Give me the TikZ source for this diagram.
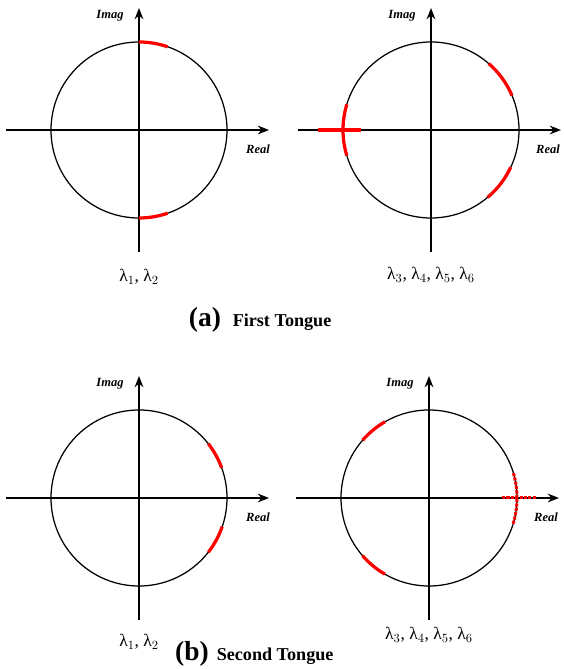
\documentclass[tikz,border=0pt]{standalone}
\usepackage{fontspec}
\setmainfont{Liberation Serif}
\usetikzlibrary{arrows.meta,calc,positioning}
\tikzset{
  axis/.style={
    line width = 1.1pt,
    -{Stealth[length=9pt,width=7pt]}
  },
  unitc/.style={
    line width = 1pt
  },
  eig/.style={
    line width = 2.6pt,
    red
  },
  eigdot/.style={
    line width = 2.4pt,
    red,
    dash pattern = on 2.5pt off 1pt
  },
  axlabel/.style={
    font = \bfseries\itshape\fontsize{10}{12}\selectfont,
    inner sep = 1pt
  },
  lam/.style={
    font = \fontsize{14}{16}\selectfont,
    inner sep = 1pt
  },
  tag/.style={
    font = \bfseries\fontsize{22}{24}\selectfont,
    inner sep = 1pt
  },
  subcap/.style={
    font = \bfseries\fontsize{14.5}{17}\selectfont,
    inner sep = 1pt
  }
}

\begin{document}
\begin{tikzpicture}[x=0.8pt,y=0.8pt]
    \def\R{88}
    \def\dw{133}
    \def\de{130}
    \def\dv{122}
    \useasboundingbox (0,0) rectangle (563,669);
    \coordinate (c1) at (139,539);
    \coordinate (c2) at (431,539);
    \coordinate (c3) at (139,171);
    \coordinate (c4) at (429,171);
    % first tongue, lambda 1,2
    \coordinate (w1) at ($(c1)+(-\dw,0)$);
    \coordinate (e1) at ($(c1)+(\de,0)$);
    \coordinate (s1) at ($(c1)+(0,-\dv)$);
    \coordinate (n1) at ($(c1)+(0,\dv)$);
    \draw[axis] (w1) -- (e1);
    \draw[axis] (s1) -- (n1);
    \draw[unitc] (c1) circle[radius=\R];
    \draw[eig] ($(c1)+(71:\R)$) arc (71:90:\R);
    \draw[eig] ($(c1)+(270:\R)$) arc (270:289:\R);
    \node[axlabel] (im1) at ($(n1)+(-29,-8)$) {Imag};
    \node[axlabel] (re1) at ($(e1)+(-11,-19)$) {Real};
    \node[lam] (l1) at ($(c1)+(0,-147)$) {λ$_1$, λ$_2$};
    % first tongue, lambda 3..6
    \coordinate (w2) at ($(c2)+(-\dw,0)$);
    \coordinate (e2) at ($(c2)+(\de,0)$);
    \coordinate (s2) at ($(c2)+(0,-\dv)$);
    \coordinate (n2) at ($(c2)+(0,\dv)$);
    \draw[axis] (w2) -- (e2);
    \draw[axis] (s2) -- (n2);
    \draw[unitc] (c2) circle[radius=\R];
    \draw[eig] ($(c2)+(23:\R)$) arc (23:49:\R);
    \draw[eig] ($(c2)+(-50:\R)$) arc (-50:-25:\R);
    \draw[eig] ($(c2)+(163:\R)$) arc (163:197:\R);
    \draw[eig] ($(c2)+(-113,0)$) -- ($(c2)+(-70,0)$);
    \node[axlabel] (im2) at ($(n2)+(-29,-8)$) {Imag};
    \node[axlabel] (re2) at ($(e2)+(-13,-19)$) {Real};
    \node[lam] (l2) at ($(c2)+(0,-145)$) {λ$_3$, λ$_4$, λ$_5$, λ$_6$};
    \node[tag] (taga) at (205,349) {(a)};
    \node[subcap, base right=7pt of taga] (suba) {First Tongue};
    % second tongue, lambda 1,2
    \coordinate (w3) at ($(c3)+(-\dw,0)$);
    \coordinate (e3) at ($(c3)+(\de,0)$);
    \coordinate (s3) at ($(c3)+(0,-\dv)$);
    \coordinate (n3) at ($(c3)+(0,\dv)$);
    \draw[axis] (w3) -- (e3);
    \draw[axis] (s3) -- (n3);
    \draw[unitc] (c3) circle[radius=\R];
    \draw[eig] ($(c3)+(20:\R)$) arc (20:38:\R);
    \draw[eig] ($(c3)+(-38:\R)$) arc (-38:-19:\R);
    \node[axlabel] (im3) at ($(n3)+(-29,-8)$) {Imag};
    \node[axlabel] (re3) at ($(e3)+(-11,-19)$) {Real};
    \node[lam] (l3) at ($(c3)+(0,-144)$) {λ$_1$, λ$_2$};
    % second tongue, lambda 3..6
    \coordinate (w4) at ($(c4)+(-\dw,0)$);
    \coordinate (e4) at ($(c4)+(\de,0)$);
    \coordinate (s4) at ($(c4)+(0,-\dv)$);
    \coordinate (n4) at ($(c4)+(0,\dv)$);
    \draw[axis] (w4) -- (e4);
    \draw[axis] (s4) -- (n4);
    \draw[unitc] (c4) circle[radius=\R];
    \draw[eig] ($(c4)+(120:\R)$) arc (120:139:\R);
    \draw[eig] ($(c4)+(221:\R)$) arc (221:240:\R);
    \draw[eigdot] ($(c4)+(-17:\R)$) arc (-17:17:\R);
    \draw[eigdot] ($(c4)+(73,0)$) -- ($(c4)+(108,0)$);
    \node[axlabel] (im4) at ($(n4)+(-29,-8)$) {Imag};
    \node[axlabel] (re4) at ($(e4)+(-13,-19)$) {Real};
    \node[lam] (l4) at ($(c4)+(0,-137)$) {λ$_3$, λ$_4$, λ$_5$, λ$_6$};
    \node[tag] (tagb) at (192,15) {(b)};
    \node[subcap, base right=4pt of tagb] (subb) {Second Tongue};
\end{tikzpicture}
\end{document}
